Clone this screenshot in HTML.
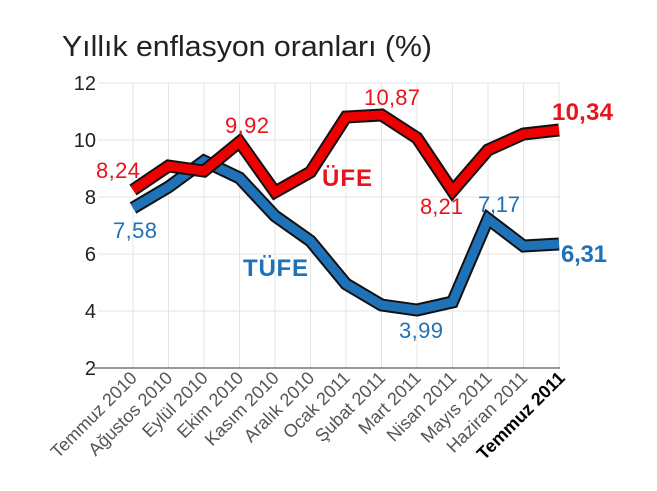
<!DOCTYPE html>
<html><head><meta charset="utf-8"><style>body{margin:0;background:#fff}</style></head><body>
<svg width="657" height="486" xmlns="http://www.w3.org/2000/svg" font-family="Liberation Sans, DejaVu Sans, sans-serif">
<rect width="657" height="486" fill="#fff"/>
<text x="62" y="56" font-size="29" fill="#222" textLength="370" lengthAdjust="spacingAndGlyphs">Yıllık enflasyon oranları (%)</text>
<g stroke="#e4e4e4" stroke-width="1">
<line x1="98" y1="83" x2="560" y2="83"/><line x1="98" y1="140" x2="560" y2="140"/>
<line x1="98" y1="197" x2="560" y2="197"/><line x1="98" y1="254" x2="560" y2="254"/>
<line x1="98" y1="311" x2="560" y2="311"/>
<line x1="133" y1="83" x2="133" y2="368"/><line x1="168.5" y1="83" x2="168.5" y2="368"/>
<line x1="204" y1="83" x2="204" y2="368"/><line x1="239.5" y1="83" x2="239.5" y2="368"/>
<line x1="275" y1="83" x2="275" y2="368"/><line x1="310.5" y1="83" x2="310.5" y2="368"/>
<line x1="346" y1="83" x2="346" y2="368"/><line x1="381.5" y1="83" x2="381.5" y2="368"/>
<line x1="417" y1="83" x2="417" y2="368"/><line x1="452.5" y1="83" x2="452.5" y2="368"/>
<line x1="488" y1="83" x2="488" y2="368"/><line x1="523.5" y1="83" x2="523.5" y2="368"/>
<line x1="559" y1="83" x2="559" y2="368"/>
</g>
<line x1="94" y1="368" x2="560" y2="368" stroke="#777" stroke-width="1.5"/>
<g font-size="20" fill="#222" text-anchor="end">
<text x="96" y="90">12</text><text x="96" y="147">10</text><text x="96" y="204">8</text>
<text x="96" y="261">6</text><text x="96" y="318">4</text><text x="96" y="375">2</text>
</g>
<g fill="none" stroke-linejoin="miter" stroke-linecap="butt">
<polyline stroke="#111" stroke-width="13" points="133,208 168.5,187 204,161 239.5,178 275,216 310.5,241 346,284 381.5,305 417,310 452.5,302 488,219 523.5,246 559,244"/>
<polyline stroke="#1f72b8" stroke-width="9" points="133,208 168.5,187 204,161 239.5,178 275,216 310.5,241 346,284 381.5,305 417,310 452.5,302 488,219 523.5,246 559,244"/>
<polyline stroke="#111" stroke-width="13" points="133,190 168.5,166 204,171 239.5,142 275,192 310.5,172 346,117 381.5,115 417,138 452.5,191 488,150 523.5,134 559,130"/>
<polyline stroke="#ee0000" stroke-width="9" points="133,190 168.5,166 204,171 239.5,142 275,192 310.5,172 346,117 381.5,115 417,138 452.5,191 488,150 523.5,134 559,130"/>
</g>
<g font-size="22" fill="#e8141c">
<text x="96" y="178" textLength="44">8,24</text><text x="225" y="133" textLength="44">9,92</text>
<text x="364" y="105" textLength="56">10,87</text><text x="420" y="214" textLength="43">8,21</text>
</g>
<g font-size="22" fill="#1f72b8">
<text x="113" y="238" textLength="44">7,58</text><text x="399" y="338" textLength="44">3,99</text><text x="478" y="212" textLength="42">7,17</text>
</g>
<text x="322" y="186" font-size="24" font-weight="bold" fill="#e8141c" textLength="50">ÜFE</text>
<text x="243" y="276" font-size="24" font-weight="bold" fill="#1f72b8" textLength="65">TÜFE</text>
<text x="552" y="120" font-size="24" font-weight="bold" fill="#e8141c" textLength="61">10,34</text>
<text x="561" y="262" font-size="24" font-weight="bold" fill="#1f72b8" textLength="46">6,31</text>
<g font-size="18" fill="#555" text-anchor="end">
<text transform="translate(138,379) rotate(-45)">Temmuz 2010</text>
<text transform="translate(173.5,379) rotate(-45)">Ağustos 2010</text>
<text transform="translate(209,379) rotate(-45)">Eylül 2010</text>
<text transform="translate(244.5,379) rotate(-45)">Ekim 2010</text>
<text transform="translate(280,379) rotate(-45)">Kasım 2010</text>
<text transform="translate(315.5,379) rotate(-45)">Aralık 2010</text>
<text transform="translate(351,379) rotate(-45)">Ocak 2011</text>
<text transform="translate(386.5,379) rotate(-45)">Şubat 2011</text>
<text transform="translate(422,379) rotate(-45)">Mart 2011</text>
<text transform="translate(457.5,379) rotate(-45)">Nisan 2011</text>
<text transform="translate(493,379) rotate(-45)">Mayıs 2011</text>
<text transform="translate(528.5,379) rotate(-45)">Haziran 2011</text>
<text transform="translate(566,379) rotate(-45)" font-weight="bold" fill="#000">Temmuz 2011</text>
</g>
</svg>
</body></html>
